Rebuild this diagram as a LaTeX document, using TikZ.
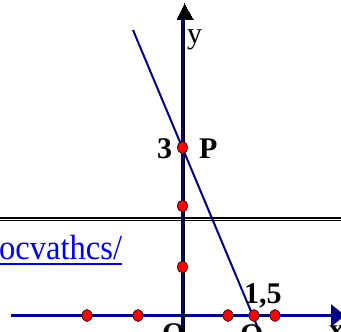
\documentclass[tikz,border=0pt]{standalone}
\usepackage{fontspec}
\setmainfont{Liberation Serif}
\usetikzlibrary{shapes.geometric,arrows.meta}
\definecolor{navy}{RGB}{0,0,140}
\definecolor{linkblue}{RGB}{0,0,255}
\definecolor{dotred}{RGB}{255,0,0}
\tikzset{
  dot/.style={ellipse,draw=black,line width=0.6pt,fill=dotred,minimum width=10pt,minimum height=12pt,inner sep=0pt},
  lbl/.style={inner sep=0pt,anchor=base west,font=\fontsize{30}{30}\selectfont\bfseries},
  axisblue/.style={navy,line width=2.4pt},
}
\begin{document}
\begin{tikzpicture}[x=1pt,y=-1pt]
\useasboundingbox (0,0) rectangle (341,332);
\begin{scope}
\clip (0,0) rectangle (341,332);
% double rule
\draw[black,line width=2pt] (0,217.5) -- (341,217.5);
\draw[black,line width=1.2pt] (0,220.8) -- (341,220.8);
% link text
\node[inner sep=0pt,anchor=base west,text=linkblue,font=\fontsize{35}{35}\selectfont,xscale=0.93] (link) at (-1,259) {ocvathcs/};
\coordinate (ul1) at (0,263.5);
\coordinate (ul2) at (122,263.5);
\draw[linkblue,line width=2pt] (ul1) -- (ul2);
% coordinates
\coordinate (ytop) at (184.5,4);
\coordinate (ybot) at (184.5,340);
\coordinate (yb1) at (182.3,18);
\coordinate (yb2) at (182.3,340);
\coordinate (xl) at (11,315.5);
\coordinate (xr) at (345,315.5);
\coordinate (s1) at (133,30);
\coordinate (s2) at (263,340);
% x axis
\draw[axisblue,-{Triangle[length=14pt,width=22pt]}] (xl) -- (xr);
% y axis
\draw[black,line width=1pt] (ybot) -- (184.5,18);
\draw[black,line width=0pt,fill=black] (177,19) -- (ytop) -- (193,19) -- cycle;
\draw[axisblue] (yb1) -- (yb2);
% slanted line
\draw[navy,line width=2pt] (s1) -- (s2);
% dots
\node[dot] (P) at (182.5,147.5) {};
\node[dot] (y2) at (182.5,206) {};
\node[dot] (y1) at (182.5,267) {};
\node[dot] (xa) at (87,315.5) {};
\node[dot] (xb) at (138,315.5) {};
\node[dot] (xc) at (228,315.5) {};
\node[dot] (Q) at (254,315.5) {};
\node[dot] (xd) at (275,315.5) {};
% labels
\node[lbl] (l3) at (157,158) {3};
\node[lbl] (lP) at (199,158) {P};
\node[lbl] (l15) at (244,303) {1,5};
\node[lbl] (lO) at (162,343) {O};
\node[lbl] (lQ) at (240,344) {Q};
\node[inner sep=0pt,anchor=base west,font=\fontsize{30}{30}\selectfont] (ly) at (187,43) {y};
\node[lbl] (lx) at (329,339) {x};
\end{scope}
\end{tikzpicture}
\end{document}
